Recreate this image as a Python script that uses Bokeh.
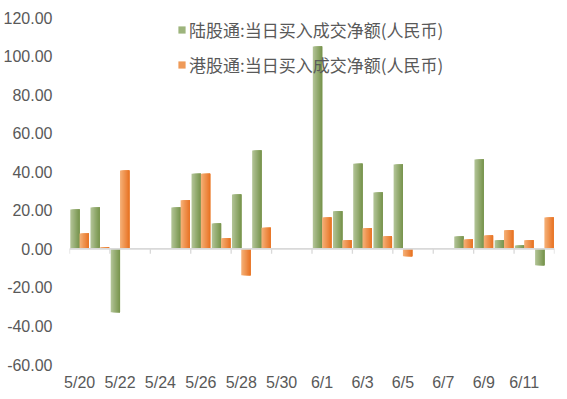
import numpy as np
from bokeh.plotting import figure
from bokeh.models import (Range1d, FixedTicker, NumeralTickFormatter, Legend,
                          LegendItem, ColumnDataSource)
from bokeh.embed import file_html
from bokeh.resources import INLINE

# ---- data ----
dates = ["5/20", "5/21", "5/22", "5/23", "5/24", "5/25", "5/26", "5/27",
         "5/28", "5/29", "5/30", "5/31", "6/1", "6/2", "6/3", "6/4", "6/5",
         "6/6", "6/7", "6/8", "6/9", "6/10", "6/11", "6/12"]
north = [20.4, 21.4, -32.9, None, None, 21.4, 39.0, 13.1, 28.2, 51.0, None, None,
         104.9, 19.5, 44.2, 29.2, 43.7, None, None, 6.4, 46.3, 4.5, 1.7, -8.5]
south = [7.9, 0.8, 40.6, None, None, 25.2, 39.0, 5.5, -13.7, 11.0, None, None,
         16.2, 4.5, 10.7, 6.5, -3.8, None, None, 4.8, 6.9, 9.6, 4.5, 16.2]
series_names = ["陆股通:当日买入成交净额(人民币)", "港股通:当日买入成交净额(人民币)"]
tick_labels = dates[::2]

# ---- styles ----
green_light, green_dark = (176, 194, 148), (122, 150, 80)
orange_light, orange_dark = (245, 174, 116), (232, 118, 40)
legend_colors = ["#9db47c", "#ef9a58"]
label_color = "#595959"
axis_color = "#d9d9d9"

p = figure(width=556, height=393, output_backend="svg", toolbar_location=None,
           x_range=Range1d(0, len(dates)), y_range=Range1d(-60, 120),
           min_border_left=0, min_border_right=2, min_border_top=17,
           min_border_bottom=0)
p.outline_line_color = None
p.xgrid.grid_line_color = None
p.ygrid.grid_line_color = None
p.background_fill_color = "white"
p.border_fill_color = "white"

def hexc(c):
    return "#%02x%02x%02x" % tuple(int(round(v)) for v in c)

bar_w = 0.46
n_strips = 8
sw = bar_w / n_strips

def add_series(vals, offset, light, dark):
    lefts, rights, tops, cols = [], [], [], []
    for i, v in enumerate(vals):
        if v is None:
            continue
        left = i + 0.5 + offset - bar_w / 2
        right = left + bar_w
        for k in range(n_strips):
            t = k / (n_strips - 1)
            col = tuple(light[j] + (dark[j] - light[j]) * t for j in range(3))
            lefts.append(left + k * sw)
            rights.append(right)
            tops.append(v)
            cols.append(hexc(col))
    src = ColumnDataSource(dict(left=lefts, right=rights, top=tops, color=cols))
    p.quad(left="left", right="right", top="top", bottom=0, source=src,
           fill_color="color", line_color=None)

add_series(north, -bar_w / 2, green_light, green_dark)
add_series(south, bar_w / 2, orange_light, orange_dark)

# zero axis line with tick marks
n = len(dates)
p.segment(x0=[0], y0=[0], x1=[n], y1=[0], line_color=axis_color, line_width=1.6)
tx = list(range(0, n + 1, 2))
p.segment(x0=tx, y0=[0] * len(tx), x1=tx, y1=[-2.6] * len(tx),
          line_color=axis_color, line_width=1.3)

# axes
p.xaxis.ticker = FixedTicker(ticks=[i + 0.5 for i in range(0, n, 2)])
p.xaxis.major_label_overrides = {i + 0.5: lab for i, lab in zip(range(0, n, 2), tick_labels)}
p.xaxis.axis_line_color = None
p.xaxis.major_tick_line_color = None
p.xaxis.minor_tick_line_color = None
p.xaxis.major_tick_out = 0
p.xaxis.major_tick_in = 0
p.xaxis.minor_tick_out = 0
p.xaxis.major_label_text_font = "Liberation Sans"
p.xaxis.major_label_text_font_size = "16px"
p.xaxis.major_label_text_color = label_color
p.xaxis.major_label_standoff = 9

p.yaxis.ticker = FixedTicker(ticks=list(range(-60, 121, 20)))
p.yaxis.formatter = NumeralTickFormatter(format="0.00")
p.yaxis.axis_line_color = None
p.yaxis.major_tick_line_color = None
p.yaxis.minor_tick_line_color = None
p.yaxis.major_tick_out = 0
p.yaxis.major_tick_in = 0
p.yaxis.minor_tick_out = 0
p.yaxis.major_label_text_font = "Liberation Sans"
p.yaxis.major_label_text_font_size = "16px"
p.yaxis.major_label_text_color = label_color
p.yaxis.major_label_standoff = 17

# legend
r1 = p.quad(left=[np.nan], right=[np.nan], top=[np.nan], bottom=[np.nan],
            fill_color=legend_colors[0], line_color=None)
r2 = p.quad(left=[np.nan], right=[np.nan], top=[np.nan], bottom=[np.nan],
            fill_color=legend_colors[1], line_color=None)
legend = Legend(items=[LegendItem(label=series_names[0], renderers=[r1]),
                       LegendItem(label=series_names[1], renderers=[r2])],
                location=(108, 287), orientation="vertical",
                label_text_font="Noto Sans CJK SC", label_text_font_size="17px",
                label_text_color=label_color, glyph_width=9, glyph_height=9,
                label_height=24, label_standoff=3, spacing=10, padding=0, margin=0,
                border_line_color=None, background_fill_alpha=0)
p.add_layout(legend)

open("out.html", "w").write(file_html(p, INLINE))
